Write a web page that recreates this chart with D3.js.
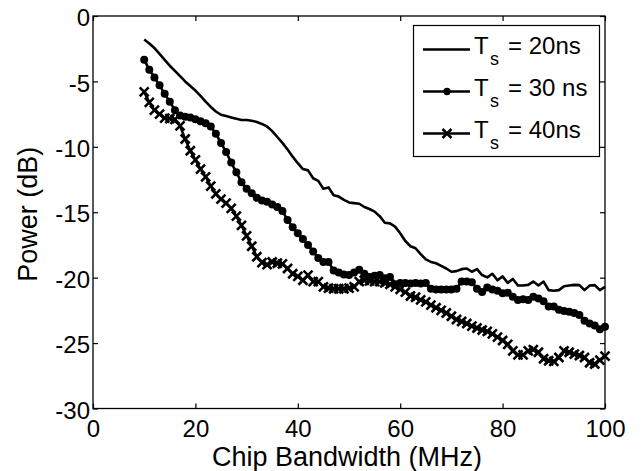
<!DOCTYPE html>
<html>
<head>
<meta charset="utf-8">
<script src="https://cdn.jsdelivr.net/npm/d3@7"></script>
<style>
  html, body { margin: 0; padding: 0; background: #fff; }
  svg { display: block; font-family: "Liberation Sans", Arial, sans-serif; }
</style>
</head>
<body>
<div id="chart"></div>
<script>
// chip bandwidth in MHz, one sample per MHz
const bandwidth = d3.range(10, 101);

// T_s = 20 ns (plain line)
const power20 = [
  -1.8, -2.1, -2.45, -2.9, -3.35, -3.8, -4.2, -4.6, -5.0, -5.35,
  -5.7, -6.1, -6.55, -6.95, -7.3, -7.55, -7.65, -7.75, -7.85, -7.95,
  -7.95, -8.0, -8.1, -8.25, -8.45, -8.8, -9.25, -9.7, -10.2, -10.75,
  -11.25, -11.7, -11.8, -12.4, -12.6, -13.2, -13.1, -13.7, -13.8, -14.05,
  -14.25, -14.3, -14.35, -14.6, -14.75, -14.95, -15.3, -15.8, -15.85, -16.1,
  -16.6, -17.2, -17.6, -17.75, -18.2, -18.6, -18.8, -18.9, -19.1, -19.3,
  -19.55, -19.5, -19.35, -19.3, -19.55, -19.35, -19.8, -19.98, -19.7, -20.2,
  -19.9, -20.4, -20.1, -20.6, -20.6, -20.55, -20.3, -20.6, -20.3, -20.95,
  -21.0, -20.95, -20.65, -20.6, -20.55, -20.57, -20.95, -20.6, -20.57, -20.95,
  -20.7
];

// T_s = 30 ns (circles)
const power30 = [
  -3.35, -4.1, -4.7, -5.3, -5.95, -6.55, -7.2, -7.6, -7.7, -7.75,
  -7.9, -8.05, -8.2, -8.45, -9.0, -9.7, -10.4, -11.2, -11.95, -12.7,
  -13.2, -13.55, -13.9, -14.1, -14.2, -14.4, -14.6, -14.9, -15.6, -16.15,
  -16.6, -17.05, -17.5, -18.0, -18.5, -18.8, -18.8, -19.45, -19.6, -19.75,
  -19.8, -19.6, -19.4, -19.7, -19.95, -19.85, -19.8, -20.05, -19.95, -20.5,
  -20.4, -20.4, -20.45, -20.4, -20.45, -20.4, -20.85, -20.9, -20.9, -20.9,
  -20.9, -20.85, -20.3, -20.3, -20.35, -20.85, -21.1, -20.75, -20.9, -21.0,
  -21.2, -21.15, -21.45, -21.7, -21.65, -21.7, -21.45, -21.6, -21.8, -22.2,
  -22.2, -22.45, -22.55, -22.6, -22.7, -22.85, -23.3, -23.5, -23.65, -23.95,
  -23.75
];

// T_s = 40 ns (crosses)
const power40 = [
  -5.8, -6.6, -7.2, -7.5, -7.8, -7.85, -7.9, -8.4, -9.4, -10.3,
  -11.0, -11.7, -12.3, -13.0, -13.6, -14.0, -14.3, -14.7, -15.3, -16.0,
  -16.8, -17.6, -18.4, -18.85, -19.0, -18.8, -18.9, -18.95, -19.3, -19.7,
  -19.9, -20.2, -19.8, -20.3, -20.3, -20.7, -20.8, -20.85, -20.85, -20.85,
  -20.8, -20.7, -20.3, -20.2, -20.25, -20.3, -20.3, -20.4, -20.5, -20.7,
  -20.9, -21.1, -21.4, -21.5, -21.7, -21.85, -22.1, -22.3, -22.5, -22.7,
  -22.95, -23.2, -23.35, -23.5, -23.7, -23.85, -24.0, -24.1, -24.3, -24.55,
  -24.8, -25.1, -25.6, -25.9, -25.9, -25.6, -25.5, -25.7, -26.2, -26.35,
  -26.4, -26.1, -25.6, -25.7, -25.85, -25.95, -26.1, -26.5, -26.6, -26.3,
  -26.0
];

const xTicks = [0, 20, 40, 60, 80, 100];
const yTicks = [0, -5, -10, -15, -20, -25, -30];

const series = [
  { label: "20ns", values: power20, marker: "none" },
  { label: "30 ns", values: power30, marker: "circle" },
  { label: "40ns", values: power40, marker: "cross" }
];

const width = 644, height = 471;
const plot = { left: 93, right: 605, top: 16, bottom: 408.5 };

const svg = d3.select("#chart").append("svg")
  .attr("width", width)
  .attr("height", height);

const x = d3.scaleLinear().domain([0, 100]).range([plot.left, plot.right]);
const y = d3.scaleLinear().domain([-30, 0]).range([plot.bottom, plot.top]);

// plain hyphen for negative numbers, like the original
const fmt = d => String(d);

// Axes (ticks point inwards, MATLAB style)
const gx = svg.append("g")
  .attr("transform", "translate(0," + plot.bottom + ")")
  .call(d3.axisBottom(x).tickValues(xTicks).tickSize(-5).tickFormat(fmt));
gx.select(".domain").remove();
gx.selectAll("text").attr("y", 28).attr("dy", null).style("font-size", "24px").attr("fill", "#000");

const gxTop = svg.append("g")
  .attr("transform", "translate(0," + plot.top + ")")
  .call(d3.axisTop(x).tickValues(xTicks).tickSize(-5).tickFormat(""));
gxTop.select(".domain").remove();

const gy = svg.append("g")
  .attr("transform", "translate(" + plot.left + ",0)")
  .call(d3.axisLeft(y).tickValues(yTicks).tickSize(-5).tickFormat(fmt));
gy.select(".domain").remove();
gy.selectAll("text").attr("x", -3).attr("dy", "0.4em").style("font-size", "24px").attr("fill", "#000");

const gyRight = svg.append("g")
  .attr("transform", "translate(" + plot.right + ",0)")
  .call(d3.axisRight(y).tickValues(yTicks).tickSize(-5).tickFormat(""));
gyRight.select(".domain").remove();

svg.selectAll(".tick line").attr("stroke", "#000").attr("stroke-width", 1.2);

// Box
svg.append("rect")
  .attr("x", plot.left)
  .attr("y", plot.top)
  .attr("width", plot.right - plot.left)
  .attr("height", plot.bottom - plot.top)
  .attr("fill", "none")
  .attr("stroke", "#000")
  .attr("stroke-width", 1.3);

// Axis titles
svg.append("text")
  .attr("x", (plot.left + plot.right) / 2 - 2)
  .attr("y", 466)
  .attr("text-anchor", "middle")
  .style("font-size", "27px")
  .text("Chip Bandwidth (MHz)");

svg.append("text")
  .attr("transform", "translate(37," + ((plot.top + plot.bottom) / 2 + 2) + ") rotate(-90)")
  .attr("text-anchor", "middle")
  .style("font-size", "27px")
  .text("Power (dB)");

// Lines and markers
const line = d3.line()
  .x((d, i) => x(bandwidth[i]))
  .y(d => y(d));

const crossPath = "M-4.5,-4.5L4.5,4.5M-4.5,4.5L4.5,-4.5";

series.forEach(s => {
  svg.append("path")
    .datum(s.values)
    .attr("fill", "none")
    .attr("stroke", "#000")
    .attr("stroke-width", 2.6)
    .attr("stroke-linejoin", "round")
    .attr("d", line);

  if (s.marker === "circle") {
    svg.append("g")
      .selectAll("circle")
      .data(s.values)
      .enter()
      .append("circle")
      .attr("cx", (d, i) => x(bandwidth[i]))
      .attr("cy", d => y(d))
      .attr("r", 4)
      .attr("fill", "#000");
  } else if (s.marker === "cross") {
    svg.append("g")
      .selectAll("path")
      .data(s.values)
      .enter()
      .append("path")
      .attr("transform", (d, i) => "translate(" + x(bandwidth[i]) + "," + y(d) + ")")
      .attr("d", crossPath)
      .attr("stroke", "#000")
      .attr("stroke-width", 2.6);
  }
});

// Legend
const legend = svg.append("g");
legend.append("rect")
  .attr("x", 413.5)
  .attr("y", 25.5)
  .attr("width", 186)
  .attr("height", 131)
  .attr("fill", "#fff")
  .attr("stroke", "#000")
  .attr("stroke-width", 1.2);

series.forEach((s, i) => {
  const ly = 49.5 + i * 42;
  const row = legend.append("g");
  row.append("line")
    .attr("x1", 423).attr("x2", 470)
    .attr("y1", ly).attr("y2", ly)
    .attr("stroke", "#000")
    .attr("stroke-width", 2.6);
  if (s.marker === "circle") {
    row.append("circle").attr("cx", 447).attr("cy", ly).attr("r", 3.7).attr("fill", "#000");
  } else if (s.marker === "cross") {
    row.append("path")
      .attr("transform", "translate(447," + ly + ")")
      .attr("d", crossPath)
      .attr("stroke", "#000")
      .attr("stroke-width", 2.6);
  }
  const t = row.append("text")
    .attr("x", 474)
    .attr("y", ly + 4)
    .style("font-size", "24px");
  t.append("tspan").text("T");
  t.append("tspan").attr("x", 490).attr("dy", 11).style("font-size", "18px").text("s");
  t.append("tspan").attr("x", 508).attr("dy", -11).text("= " + s.label);
});
</script>
</body>
</html>
